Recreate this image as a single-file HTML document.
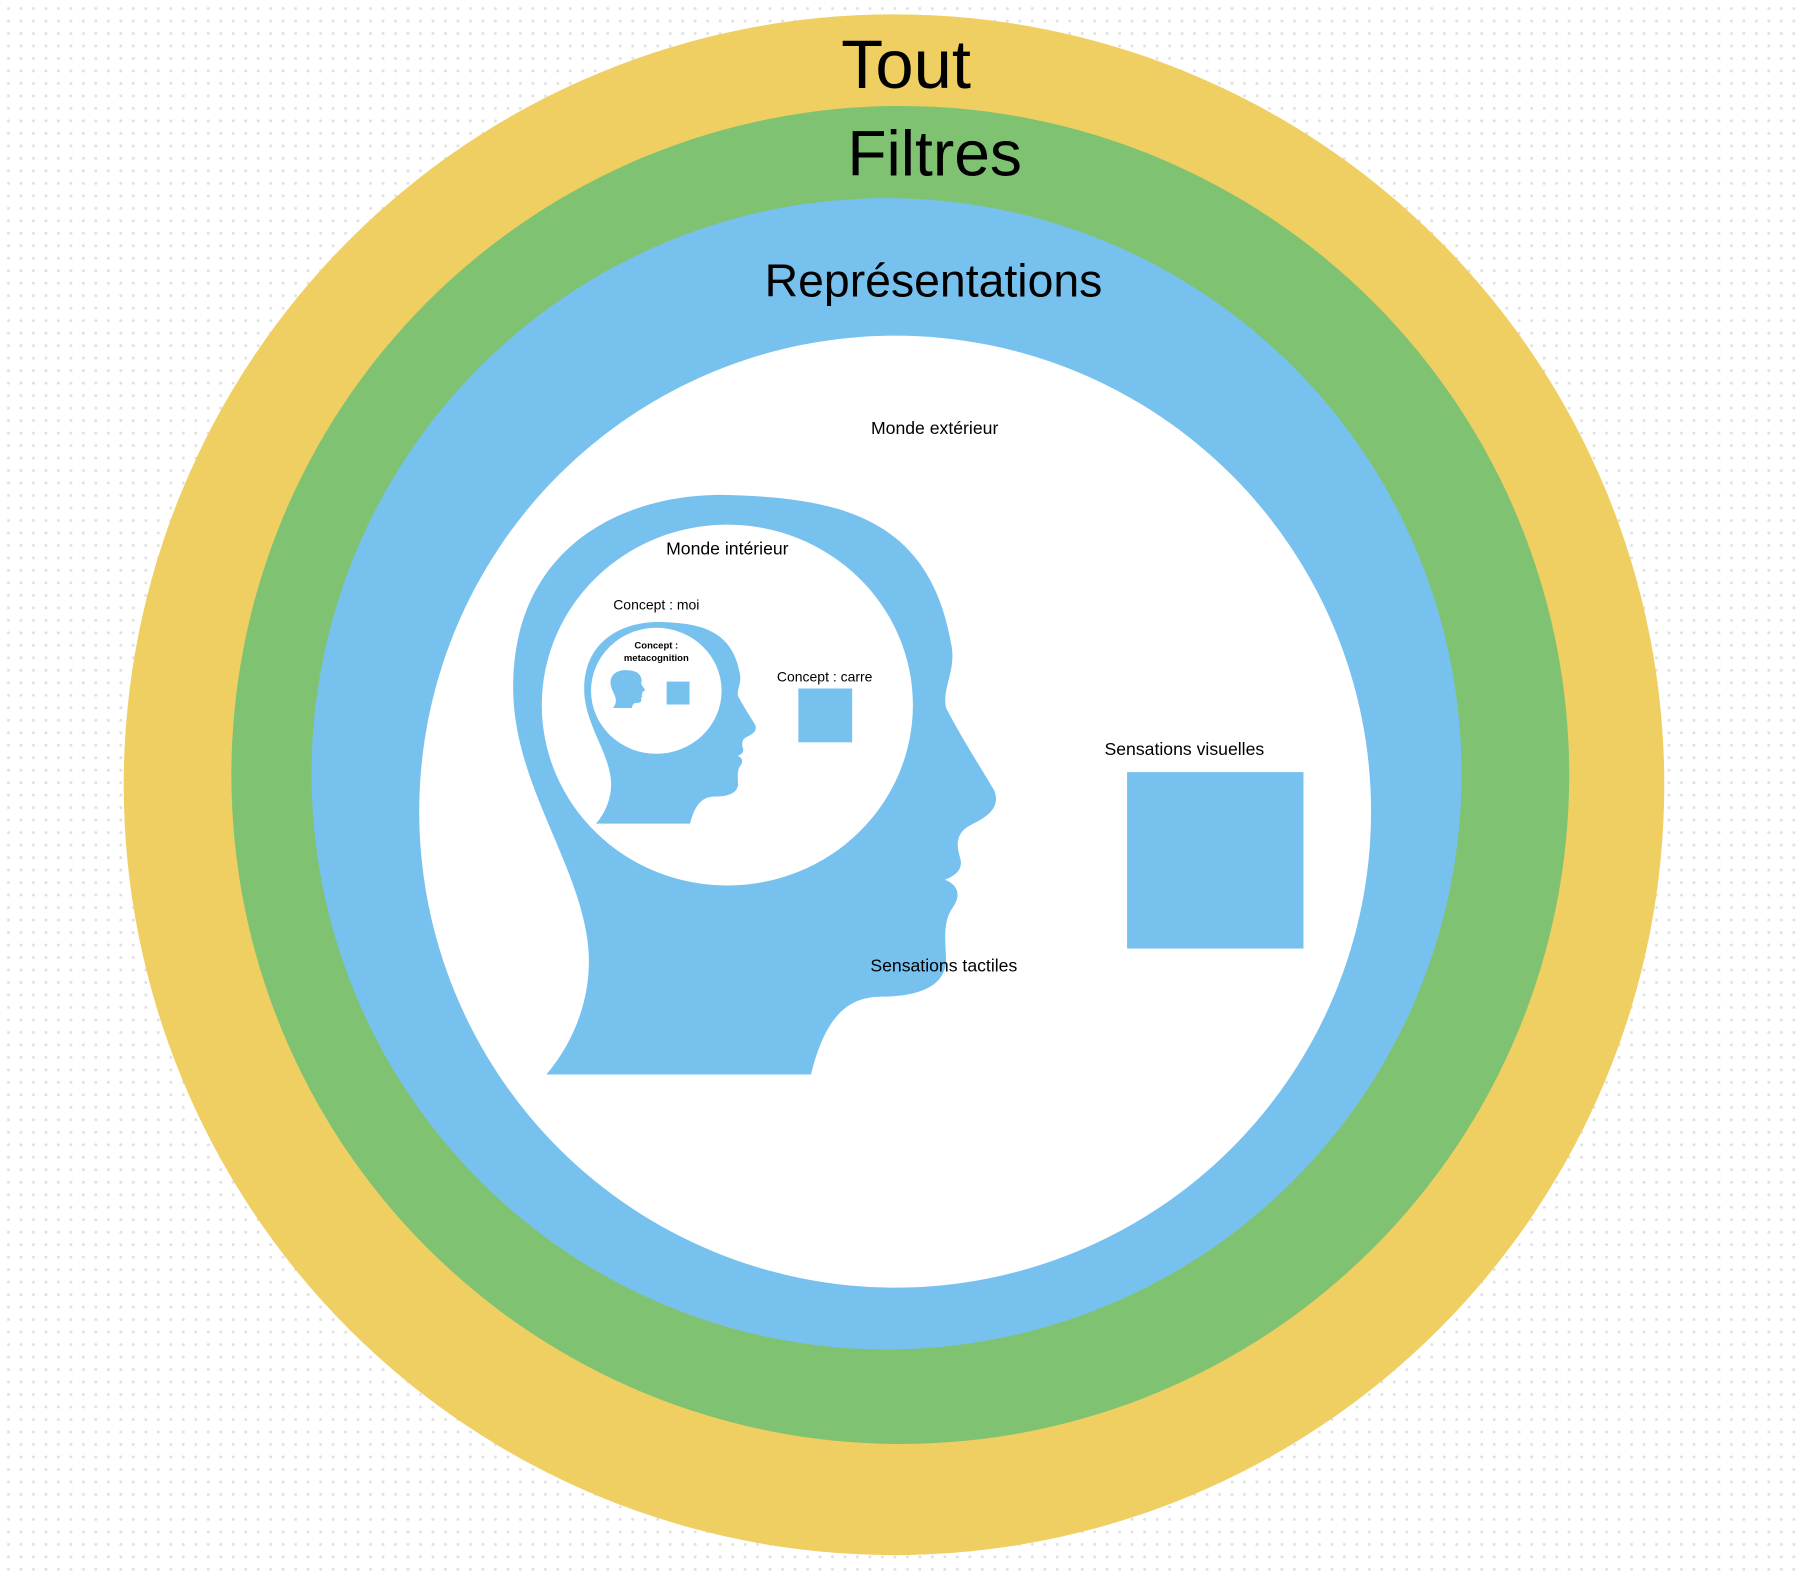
<!DOCTYPE html>
<html><head><meta charset="utf-8"><style>
html,body{margin:0;padding:0;background:#fff;}
svg{display:block;}
text{font-family:"Liberation Sans",sans-serif;fill:#000;}
</style></head><body>
<svg width="1796" height="1574" viewBox="0 0 1568 1374" preserveAspectRatio="none" xmlns="http://www.w3.org/2000/svg">
<defs>
<pattern id="dots" width="10.9" height="10.9" patternUnits="userSpaceOnUse" x="2" y="2">
<circle cx="5.4" cy="5.4" r="1.3" fill="#e0e0e0"/>
</pattern>
<path id="head" d="M477,938 C505,905 520,860 512,815 C500,745 448,680 448,600 C448,480 540,432 630,432 C730,434 810,450 830,560 C836,585 822,600 826,618 C840,645 855,668 868,690 C874,705 862,713 848,720 C834,727 835,738 838,748 C842,760 832,765 825,768 C835,772 840,780 832,792 C822,805 826,825 826,840 C824,862 800,870 770,870 C738,870 720,890 708,938 Z"/>
</defs>
<rect width="1568" height="1374" fill="url(#dots)"/>
<circle cx="780.5" cy="685" r="672.5" fill="#efcf61"/>
<circle cx="786" cy="676.5" r="584" fill="#7fc372"/>
<ellipse cx="774" cy="675.5" rx="502" ry="502.5" fill="#77c1ef"/>
<ellipse cx="781.5" cy="708.5" rx="415.5" ry="415.5" fill="#fff"/>
<use href="#head" fill="#77c1ef"/>
<ellipse cx="635" cy="615.5" rx="162" ry="157.5" fill="#fff"/>
<g transform="translate(510,543) scale(0.3555 0.3478) translate(-448,-432)"><use href="#head" fill="#77c1ef"/></g>
<ellipse cx="573" cy="603" rx="57" ry="55" fill="#fff"/>
<g transform="translate(533,585) scale(0.0711 0.0652) translate(-448,-432)"><use href="#head" fill="#77c1ef"/></g>
<rect x="582" y="595" width="20" height="20" fill="#77c1ef"/>
<rect x="697" y="601" width="47" height="47" fill="#77c1ef"/>
<rect x="984" y="674" width="154" height="154" fill="#77c1ef"/>
<text x="791" y="77" font-size="60" text-anchor="middle">Tout</text>
<text x="816" y="153" font-size="56" text-anchor="middle">Filtres</text>
<text x="815" y="259" font-size="40.5" text-anchor="middle">Représentations</text>
<text x="816" y="379" font-size="15.4" text-anchor="middle">Monde extérieur</text>
<text x="635" y="484" font-size="15.4" text-anchor="middle">Monde intérieur</text>
<text x="573" y="532" font-size="12.2" text-anchor="middle">Concept : moi</text>
<text x="573" y="566" font-size="8.3" font-weight="bold" text-anchor="middle">Concept :</text>
<text x="573" y="577" font-size="8.3" font-weight="bold" text-anchor="middle">metacognition</text>
<text x="720" y="595" font-size="12.2" text-anchor="middle">Concept : carre</text>
<text x="1034" y="659" font-size="15.4" text-anchor="middle">Sensations visuelles</text>
<text x="824" y="848" font-size="15.4" text-anchor="middle">Sensations tactiles</text>
</svg>
</body></html>
